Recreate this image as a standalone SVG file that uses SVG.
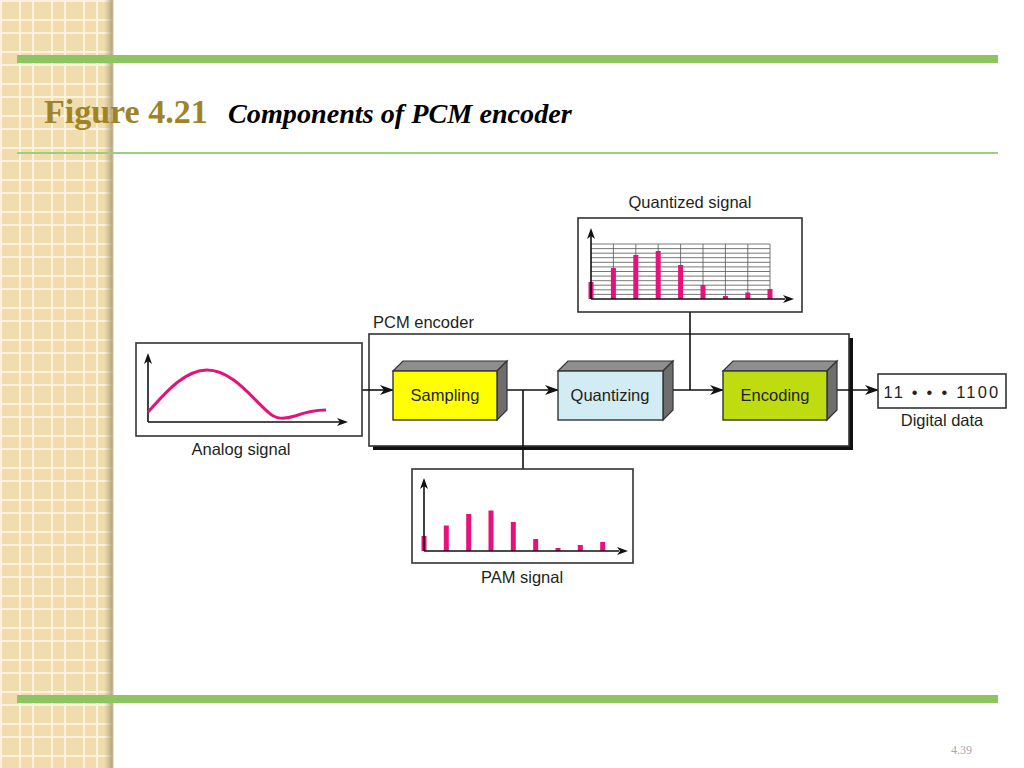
<svg xmlns="http://www.w3.org/2000/svg" width="1024" height="768" viewBox="0 0 1024 768">
<defs>
<pattern id="grid" x="0" y="0" width="32" height="32" patternUnits="userSpaceOnUse">
<rect width="32" height="32" fill="#F0DCAC"/>
<rect x="0" y="0" width="2" height="32" fill="#FBF3E0"/>
<rect x="19" y="0" width="2" height="32" fill="#FBF3E0"/>
<rect x="0" y="0" width="32" height="2" fill="#FBF3E0"/>
<rect x="0" y="19" width="32" height="2" fill="#FBF3E0"/>
</pattern>
<linearGradient id="edge" x1="0" y1="0" x2="1" y2="0">
<stop offset="0" stop-color="#B8A680" stop-opacity="0"/>
<stop offset="0.8" stop-color="#A8987A" stop-opacity="0.8"/>
<stop offset="1" stop-color="#D8D0C0" stop-opacity="0.5"/>
</linearGradient>
<marker id="arr" markerWidth="14" markerHeight="10" refX="13" refY="5" orient="auto" markerUnits="userSpaceOnUse">
<path d="M0,0 L14,5 L0,10 L4,5 Z" fill="#111"/>
</marker>
<style>
.lbl{font-family:"Liberation Sans",Arial,sans-serif;font-size:16.5px;fill:#231F20}
.box{fill:#fff;stroke:#333;stroke-width:1.6}
.ax{stroke:#111;stroke-width:1.6;fill:none}
.bar{fill:#E6117D}
.conn{stroke:#111;stroke-width:1.6;fill:none}
.top{fill:#8E8E8E;stroke:#333;stroke-width:1.2}
.side{fill:#6E6E6E;stroke:#333;stroke-width:1.2}
.front{stroke:#333;stroke-width:1.4}
.grd{stroke:#555;stroke-width:0.8}
</style>
</defs>
<rect width="1024" height="768" fill="#fff"/>
<rect x="0" y="0" width="113" height="768" fill="url(#grid)"/>
<rect x="104" y="0" width="10" height="768" fill="url(#edge)"/>
<rect x="17" y="55" width="981" height="8" fill="#8DC563"/>
<rect x="17" y="152" width="981" height="2" fill="#9BCF78"/>
<rect x="17" y="695" width="981" height="8" fill="#8DC563"/>
<text x="44" y="123" font-family="Liberation Serif,serif" font-weight="bold" font-size="34" fill="#9E8424">Figure 4.21</text>
<text x="228" y="123" font-family="Liberation Serif,serif" font-weight="bold" font-style="italic" font-size="28.2" fill="#000">Components of PCM encoder</text>
<text x="951" y="754" font-family="Liberation Serif,serif" font-size="12" fill="#A8A8A8">4.39</text>

<g id="pcm-encoder">
<rect x="373" y="338" width="480" height="112" fill="#111"/>
<rect class="box" x="369" y="334" width="480" height="112"/>
<text class="lbl" x="373" y="328">PCM encoder</text>
</g>

<g id="connectors">
<line class="conn" x1="362" y1="390" x2="393" y2="390" marker-end="url(#arr)"/>
<line class="conn" x1="500" y1="390" x2="558" y2="390" marker-end="url(#arr)"/>
<line class="conn" x1="523" y1="390" x2="523" y2="469"/>
<line class="conn" x1="666" y1="390" x2="723" y2="390" marker-end="url(#arr)"/>
<line class="conn" x1="690" y1="390" x2="690" y2="312"/>
<line class="conn" x1="830" y1="390" x2="878" y2="390" marker-end="url(#arr)"/>
</g>

<g id="sampling">
<polygon class="top" points="393,371 403,361 507,361 497,371"/>
<polygon class="side" points="497,371 507,361 507,410 497,420"/>
<rect class="front" x="393" y="371" width="104" height="49" fill="#FFFF00"/>
<text class="lbl" x="445" y="401" text-anchor="middle">Sampling</text>
</g>
<g id="quantizing">
<polygon class="top" points="558,371 568,361 673,361 663,371"/>
<polygon class="side" points="663,371 673,361 673,410 663,420"/>
<rect class="front" x="558" y="371" width="105" height="49" fill="#D2ECF3"/>
<text class="lbl" x="610" y="401" text-anchor="middle">Quantizing</text>
</g>
<g id="encoding">
<polygon class="top" points="723,371 733,361 837,361 827,371"/>
<polygon class="side" points="827,371 837,361 837,410 827,420"/>
<rect class="front" x="723" y="371" width="104" height="49" fill="#BEDC10"/>
<text class="lbl" x="775" y="401" text-anchor="middle">Encoding</text>
</g>

<g id="analog-signal">
<rect class="box" x="136" y="343" width="226" height="93"/>
<path class="ax" d="M148,422 V358 M148,422 H340"/>
<path d="M148,353 L144,364 L148,361 L152,364 Z" fill="#111"/>
<path d="M348,422 L337,418 L340,422 L337,426 Z" fill="#111"/>
<path d="M148,412 C162,397 183,370 207,370 C232,370 252,398 268,412 C276,420 285,419 295,416 C306,412 316,410 326,410" fill="none" stroke="#E0147C" stroke-width="3"/>
<text class="lbl" x="241" y="455" text-anchor="middle">Analog signal</text>
</g>

<g id="quantized-signal">
<rect class="box" x="578" y="218" width="224" height="94"/>
<g class="grd">
<line x1="591" y1="244" x2="770" y2="244"/>
<line x1="591" y1="248.6" x2="770" y2="248.6"/>
<line x1="591" y1="253.2" x2="770" y2="253.2"/>
<line x1="591" y1="257.7" x2="770" y2="257.7"/>
<line x1="591" y1="262.3" x2="770" y2="262.3"/>
<line x1="591" y1="266.9" x2="770" y2="266.9"/>
<line x1="591" y1="271.5" x2="770" y2="271.5"/>
<line x1="591" y1="276.1" x2="770" y2="276.1"/>
<line x1="591" y1="280.7" x2="770" y2="280.7"/>
<line x1="591" y1="285.2" x2="770" y2="285.2"/>
<line x1="591" y1="289.8" x2="770" y2="289.8"/>
<line x1="591" y1="294.4" x2="770" y2="294.4"/>
<line x1="613.4" y1="244" x2="613.4" y2="299"/>
<line x1="635.8" y1="244" x2="635.8" y2="299"/>
<line x1="658.2" y1="244" x2="658.2" y2="299"/>
<line x1="680.6" y1="244" x2="680.6" y2="299"/>
<line x1="703" y1="244" x2="703" y2="299"/>
<line x1="725.4" y1="244" x2="725.4" y2="299"/>
<line x1="747.8" y1="244" x2="747.8" y2="299"/>
<line x1="770" y1="244" x2="770" y2="299"/>
</g>
<rect class="bar" x="588.5" y="282" width="5" height="17"/>
<rect class="bar" x="610.9" y="268" width="5" height="31"/>
<rect class="bar" x="633.3" y="255" width="5" height="44"/>
<rect class="bar" x="655.7" y="251" width="5" height="48"/>
<rect class="bar" x="678.1" y="265" width="5" height="34"/>
<rect class="bar" x="700.5" y="285" width="5" height="14"/>
<rect class="bar" x="722.9" y="296" width="5" height="3"/>
<rect class="bar" x="745.3" y="292.5" width="5" height="6.5"/>
<rect class="bar" x="767.5" y="289" width="5" height="10"/>
<path class="ax" d="M591,299 V233 M591,299 H785"/>
<path d="M591,228 L587,239 L591,236 L595,239 Z" fill="#111"/>
<path d="M794,299 L783,295 L786,299 L783,303 Z" fill="#111"/>
<text class="lbl" x="690" y="208" text-anchor="middle">Quantized signal</text>
</g>

<g id="pam-signal">
<rect class="box" x="412" y="469" width="221" height="94"/>
<rect class="bar" x="421.5" y="536" width="5" height="15"/>
<rect class="bar" x="443.8" y="525.5" width="5" height="25.5"/>
<rect class="bar" x="466.2" y="514" width="5" height="37"/>
<rect class="bar" x="488.5" y="510.5" width="5" height="40.5"/>
<rect class="bar" x="510.8" y="522" width="5" height="29"/>
<rect class="bar" x="533.2" y="539" width="5" height="12"/>
<rect class="bar" x="555.5" y="548" width="5" height="3"/>
<rect class="bar" x="577.8" y="545" width="5" height="6"/>
<rect class="bar" x="600.2" y="542" width="5" height="9"/>
<path class="ax" d="M424,551 V483 M424,551 H619"/>
<path d="M424,478 L420,489 L424,486 L428,489 Z" fill="#111"/>
<path d="M628,551 L617,547 L620,551 L617,555 Z" fill="#111"/>
<text class="lbl" x="522" y="583" text-anchor="middle">PAM signal</text>
</g>

<g id="digital-data">
<rect class="box" x="878" y="374" width="128" height="34"/>
<text class="lbl" x="942" y="398" text-anchor="middle" letter-spacing="2.2" font-size="16">11 • • • 1100</text>
<text class="lbl" x="942" y="426" text-anchor="middle">Digital data</text>
</g>
</svg>
